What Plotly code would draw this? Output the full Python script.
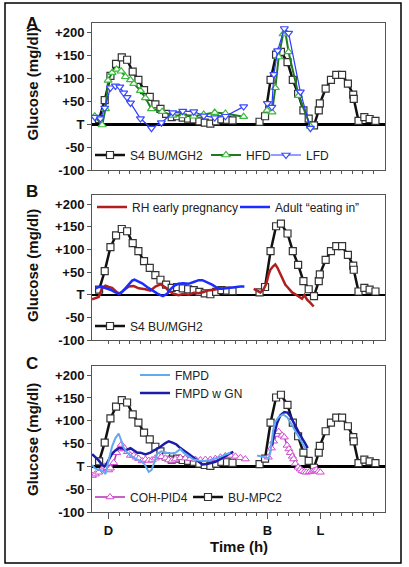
import plotly.graph_objects as go

# ---------------- data (time in hours relative to D; glucose change mg/dl) -------------
# S4 BU/MGH2 (also BU-MPC2 in panel C)
s4_t1 = [-0.88, -0.35, 0.19, 0.72, 1.26, 1.76, 2.29, 2.83, 3.36, 3.90, 4.43, 4.91, 5.44, 5.97,
         6.48, 7.01, 7.52, 8.05, 8.58, 9.09, 9.62, 10.16, 10.66, 11.19, 11.71]
s4_g1 = [11, 52, 105, 131, 145, 140, 114, 96, 74, 59, 43, 33, 22, 15,
         17, 14, 12, 10, 6, 3, 1, 6, 10, 9, 8]
s4_t2 = [14.26, 14.78, 15.3, 15.82, 16.28, 16.9, 17.4, 17.9, 18.4, 18.9, 19.4, 19.85, 19.95,
         20.5, 21.0, 21.5, 22.05, 22.6, 23.1, 23.15, 23.6, 24.15, 24.65, 25.2]
s4_g2 = [5, 17, 96, 151, 157, 135, 96, 66, 30, 12, -3, 30, 45,
         77, 96, 107, 107, 88, 64, 55, 7, 15, 11, 7]

# HFD
hfd_t1 = [-1.29, -0.59, -0.28, -0.03, 0.35, 0.78, 1.2, 1.6, 2.08, 2.39, 3.02, 3.49, 4.06,
          5.07, 6.07, 7.01, 8.05, 8.99, 10.03, 11.04, 12.76]
hfd_g1 = [17, -2, 33, 95, 112, 119, 115, 103, 96, 88, 73, 57, 33,
          27, 19, 18, 17, 21, 25, 23, 16]
hfd_t2 = [14.97, 15.44, 15.75, 16.07, 16.48, 16.7, 17.0, 17.95, 19.06]
hfd_g2 = [30, 26, 79, 146, 196, 200, 157, 62, -5]

# LFD
lfd_t1 = [-1.29, -0.75, -0.35, 0.19, 0.66, 1.07, 1.44, 1.76, 2.08, 3.02, 4.06, 5.0,
          6.07, 7.01, 8.05, 9.0, 10.03, 11.04, 12.76]
lfd_g1 = [15, 12, 35, 79, 83, 81, 68, 58, 46, 12, -9, 3,
          25, 28, 27, 18, 14, 17, 38]
lfd_t2 = [15.0, 15.42, 15.61, 15.97, 16.6, 17.0, 18.11, 19.06]
lfd_g2 = [45, 37, 108, 160, 208, 198, 70, -9]

# RH early pregnancy
rh_t1 = [-1.54, -1.23, -0.92, -0.59, -0.28, 0.03, 0.35, 0.82, 1.13, 1.44, 1.92, 2.39, 2.86,
         3.49, 3.96, 4.43, 4.91, 5.38, 5.69, 6.16, 6.63, 7.10, 7.58, 8.05, 8.52, 8.99, 9.46,
         9.93, 10.41, 10.75]
rh_g1 = [-10, -8, -5, 15, 20, 17, 15, 5, 3, 10, 18, 19, 14,
         12, 9, 18, 23, 16, 8, 2, -1, 2, 0, 4, 3, 6, 10,
         11, 13, 14]
rh_t2 = [13.71, 14.03, 14.34, 14.65, 14.91, 15.12, 15.28, 15.52, 15.75, 15.94, 16.13, 16.32,
         16.51, 16.70, 16.89, 17.10, 17.33, 17.64, 17.95, 18.27, 18.49, 18.75, 19.06, 19.37]
rh_g2 = [13, 8, 5, 12, 25, 45, 55, 62, 67, 60, 50, 40,
         33, 22, 17, 11, 5, 1, -4, -9, -1, -11, -18, -26]

# Adult "eating in"
ad_t1 = [-1.23, -0.92, -0.57, -0.19, 0.19, 0.57, 0.97, 1.29, 1.6, 1.92, 2.24, 2.45, 2.74,
         3.18, 3.65, 4.12, 4.59, 4.91, 5.14, 5.54, 5.85, 6.23, 6.6, 7.05, 7.55, 8.05, 8.52,
         8.87, 9.31, 9.78, 10.25, 10.66, 11.13, 11.6, 12.08, 12.45, 12.83]
ad_g1 = [14, 17, 17, 14, 11, 6, 2, 6, 15, 24, 31, 33, 30,
         25, 17, 9, 3, -1, -3, 2, 12, 20, 24, 25, 24, 28, 32,
         32, 28, 22, 15, 13, 14, 16, 18, 18, 18]

# FMPD
fm_t1 = [-1.54, -1.32, -1.04, -0.75, -0.47, -0.28, 0.03, 0.35, 0.66, 0.97, 1.2, 1.42, 1.7,
         2.08, 2.55, 3.02, 3.4, 3.8, 4.06, 4.34, 4.62, 5.0, 5.38, 5.85, 6.32, 6.79, 7.1,
         7.55, 8.02, 8.52, 9.06, 9.62, 10.09, 10.57, 11.04, 11.51]
fm_g1 = [3, -3, -7, -8, -12, -17, 14, 44, 62, 72, 57, 42, 32,
         24, 17, 12, 5, -12, -8, 8, 28, 33, 30, 28, 30, 38, 30,
         22, 15, 13, 12, 14, 17, 21, 26, 30]
fm_t2 = [14.03, 14.53, 14.91, 15.12, 15.28, 15.54, 15.75, 16.07, 16.48, 16.86, 17.33, 17.8,
         18.27, 18.58]
fm_g2 = [24, 22, 20, 18, 30, 78, 98, 108, 114, 108, 90, 72,
         53, 39]

# FMPD w GN
gn_t1 = [-1.54, -1.23, -0.92, -0.59, -0.38, -0.19, 0.03, 0.35, 0.66, 0.97, 1.32, 1.6, 2.08,
         2.39, 2.74, 3.02, 3.49, 3.96, 4.43, 4.91, 5.38, 5.69, 6.04, 6.42, 6.79, 7.17, 7.58,
         8.05, 8.52, 8.87, 9.31, 9.72, 10.09, 10.57, 11.04, 11.42, 11.79]
gn_g1 = [27, 20, 13, 3, 0, 5, 15, 28, 35, 40, 40, 35, 40,
         35, 30, 30, 26, 30, 36, 43, 51, 55, 52, 48, 40, 33, 27,
         19, 11, 4, 5, 7, 10, 16, 23, 28, 32]
gn_t2 = [15.42, 15.61, 15.92, 16.23, 16.6, 16.89, 17.17, 17.64, 18.11, 18.58, 18.8]
gn_g2 = [45, 68, 95, 112, 119, 118, 110, 88, 68, 50, 40]

# COH-PID4
coh_t1 = [-1.51, -1.23, -0.92, -0.59, -0.38, -0.12, 0.03, 0.19, 0.5, 0.78, 0.97, 1.23, 1.51,
          1.79, 2.08, 2.39, 2.64, 2.86, 3.18, 3.49, 3.8, 4.12, 4.43, 4.72, 5.0, 5.38, 5.69,
          6.01, 6.32, 6.79, 7.26, 7.74, 8.21, 8.68, 9.15, 9.62, 10.09, 10.57, 11.04, 11.51,
          11.98, 12.45, 12.92]
coh_g1 = [-20, -17, -13, -5, 0, -3, -8, -4, 8, 30, 38, 48, 40,
          32, 24, 24, 20, 17, 12, 15, 13, 14, 18, 23, 21, 18, 14,
          13, 16, 19, 18, 17, 15, 14, 15, 15, 17, 20, 23, 24,
          22, 19, 16]
coh_t2 = [15.09, 15.38, 15.59, 15.85, 16.07, 16.39, 16.6, 16.86, 17.03, 17.17, 17.36, 17.48,
          17.64, 17.9, 18.11, 18.27, 18.49, 18.68, 18.96, 19.22, 19.43, 19.62, 19.81, 20.0]
coh_g2 = [20, 40, 55, 70, 76, 68, 64, 46, 38, 30, 22, 16,
          6, -2, -6, -10, -12, -13, -12, -11, -9, -8, -11, -13]

y_tickvals = [-100, -50, 0, 50, 100, 150, 200]
y_ticktext = ["-100", "-50", "T", "+50", "+100", "+150", "+200"]
x_tickvals = [0, 15, 20]
x_ticktext = ["D", "B", "L"]
x_minor = list(range(0, 26))


def join(a1, a2):
    return a1 + [None] + a2


FONT = "Liberation Sans, Arial, sans-serif"
W, H = 409, 567
ML, MR, MT, MB = 92, 24, 23, 55
PW, PH = W - ML - MR, H - MT - MB


def px2paper_x(px):
    return (px - ML) / PW


def py2paper_y(py):
    return (H - MB - py) / PH


fig = go.Figure()

sq_marker = dict(symbol="square", size=7, color="white", line=dict(color="#333", width=1.2))


def s4_trace(xa, ya, name, legend):
    return go.Scatter(x=join(s4_t1, s4_t2), y=join(s4_g1, s4_g2), mode="lines+markers",
                      line=dict(color="#111", width=2.5), marker=sq_marker, name=name,
                      xaxis=xa, yaxis=ya, legend=legend, connectgaps=False, showlegend=True)


# Panel A
fig.add_trace(s4_trace("x", "y", "S4 BU/MGH2", "legend"))
fig.add_trace(go.Scatter(x=join(hfd_t1, hfd_t2), y=join(hfd_g1, hfd_g2), mode="lines+markers",
                         line=dict(color="#1f7a1f", width=2),
                         marker=dict(symbol="triangle-up", size=7, color="white",
                                     line=dict(color="#3cb83c", width=1.2)),
                         name="HFD", xaxis="x", yaxis="y", legend="legend2", showlegend=True))
fig.add_trace(go.Scatter(x=join(lfd_t1, lfd_t2), y=join(lfd_g1, lfd_g2), mode="lines+markers",
                         line=dict(color="#2b3bff", width=1.2),
                         marker=dict(symbol="triangle-down", size=7, color="white",
                                     line=dict(color="#3a4aff", width=1.2)),
                         name="LFD", xaxis="x", yaxis="y", legend="legend3", showlegend=True))

# Panel B
fig.add_trace(s4_trace("x2", "y2", "S4 BU/MGH2", "legend6"))
fig.add_trace(go.Scatter(x=join(rh_t1, rh_t2), y=join(rh_g1, rh_g2), mode="lines",
                         line=dict(color="#b01e1e", width=2.5),
                         name="RH early pregnancy", xaxis="x2", yaxis="y2", legend="legend4",
                         showlegend=True))
fig.add_trace(go.Scatter(x=ad_t1, y=ad_g1, mode="lines",
                         line=dict(color="#1a2cff", width=2.5),
                         name="Adult \u201ceating in\u201d", xaxis="x2", yaxis="y2",
                         legend="legend5", showlegend=True))

# Panel C
fig.add_trace(s4_trace("x3", "y3", "BU-MPC2", "legend10"))
fig.add_trace(go.Scatter(x=join(coh_t1, coh_t2), y=join(coh_g1, coh_g2), mode="lines+markers",
                         line=dict(color="#b52fb5", width=1.5),
                         marker=dict(symbol="triangle-up", size=7, color="white",
                                     line=dict(color="#d04ad0", width=1)),
                         name="COH-PID4", xaxis="x3", yaxis="y3", legend="legend9",
                         showlegend=True))
fig.add_trace(go.Scatter(x=join(gn_t1, gn_t2), y=join(gn_g1, gn_g2), mode="lines",
                         line=dict(color="#1c1ca8", width=2.5),
                         name="FMPD w GN", xaxis="x3", yaxis="y3", legend="legend8",
                         showlegend=True))
fig.add_trace(go.Scatter(x=join(fm_t1, fm_t2), y=join(fm_g1, fm_g2), mode="lines",
                         line=dict(color="#62aaf0", width=2),
                         name="FMPD", xaxis="x3", yaxis="y3", legend="legend7",
                         showlegend=True))

tickfont = dict(family=FONT, size=13, color="#111", weight="bold")


def xaxis(anchor, labels):
    return dict(anchor=anchor, range=[-1.55, 26.1], showline=True, linecolor="#555",
                linewidth=1, mirror=True, showgrid=False, zeroline=False,
                tickmode="array", tickvals=x_tickvals,
                ticktext=x_ticktext if labels else ["", "", ""],
                ticks="outside", ticklen=6, tickcolor="#555", tickfont=tickfont,
                minor=dict(tickmode="array", tickvals=x_minor, ticks="outside",
                           ticklen=3, tickcolor="#555"),
                fixedrange=True, automargin=False)


def yaxis(anchor, dom, zw):
    return dict(anchor=anchor, domain=dom, range=[-100, 220], tickmode="array",
                tickvals=y_tickvals, ticktext=y_ticktext, ticks="outside", ticklen=4,
                tickcolor="#555", showline=True, linecolor="#555", linewidth=1, mirror=True,
                showgrid=False, zeroline=True, zerolinecolor="black", zerolinewidth=zw,
                tickfont=tickfont, fixedrange=True, automargin=False)


dA = [py2paper_y(170), py2paper_y(23)]
dB = [py2paper_y(340), py2paper_y(195)]
dC = [py2paper_y(512), py2paper_y(366)]

legend_font = dict(family=FONT, size=12, color="#222")


def leg(text_x, center_y):
    return dict(xref="container", yref="container", x=(text_x - 40) / W,
                y=1 - center_y / H, xanchor="left", yanchor="middle",
                bgcolor="rgba(0,0,0,0)", borderwidth=0, font=legend_font,
                orientation="h")


layout = dict(
    width=W, height=H, margin=dict(l=ML, r=MR, t=MT, b=MB, autoexpand=False),
    paper_bgcolor="white", plot_bgcolor="white", showlegend=True,
    font=dict(family=FONT, color="#111"),
    xaxis=xaxis("y", False), xaxis2=xaxis("y2", False), xaxis3=xaxis("y3", True),
    yaxis=yaxis("x", dA, 2.5), yaxis2=yaxis("x2", dB, 1.5), yaxis3=yaxis("x3", dC, 2.5),
    legend=leg(130, 155), legend2=leg(246, 155), legend3=leg(306, 155),
    legend4=leg(132, 207), legend5=leg(275, 207), legend6=leg(130, 326),
    legend7=leg(175, 375), legend8=leg(175, 393), legend9=leg(130, 497),
    legend10=leg(228, 497),
)
fig.update_layout(**layout)

ann = []
title_font = dict(family=FONT, size=15, color="#111", weight="bold")
for cy in (84.5, 266, 440):
    ann.append(dict(text="Glucose (mg/dl)", xref="paper", yref="paper", x=px2paper_x(32),
                    y=py2paper_y(cy), showarrow=False, textangle=-90, font=title_font,
                    xanchor="center", yanchor="middle"))
for lab, cy in (("A", 23), ("B", 191.5), ("C", 363)):
    ann.append(dict(text=lab, xref="paper", yref="paper", x=px2paper_x(31.5),
                    y=py2paper_y(cy), showarrow=False,
                    font=dict(family=FONT, size=17, color="#111", weight="bold"),
                    xanchor="center", yanchor="middle"))
ann.append(dict(text="Time (h)", xref="paper", yref="paper", x=0.5, y=py2paper_y(546),
                showarrow=False, font=title_font, xanchor="center", yanchor="middle"))
fig.update_layout(annotations=ann)

fig.add_shape(type="rect", xref="paper", yref="paper",
              x0=px2paper_x(5), x1=px2paper_x(401), y0=py2paper_y(563), y1=py2paper_y(3),
              line=dict(color="black", width=1.5), fillcolor="rgba(0,0,0,0)", layer="above")

fig.write_html("out.html", config={"displayModeBar": False},
               post_script="document.body.style.margin='0';document.body.style.padding='0';")
